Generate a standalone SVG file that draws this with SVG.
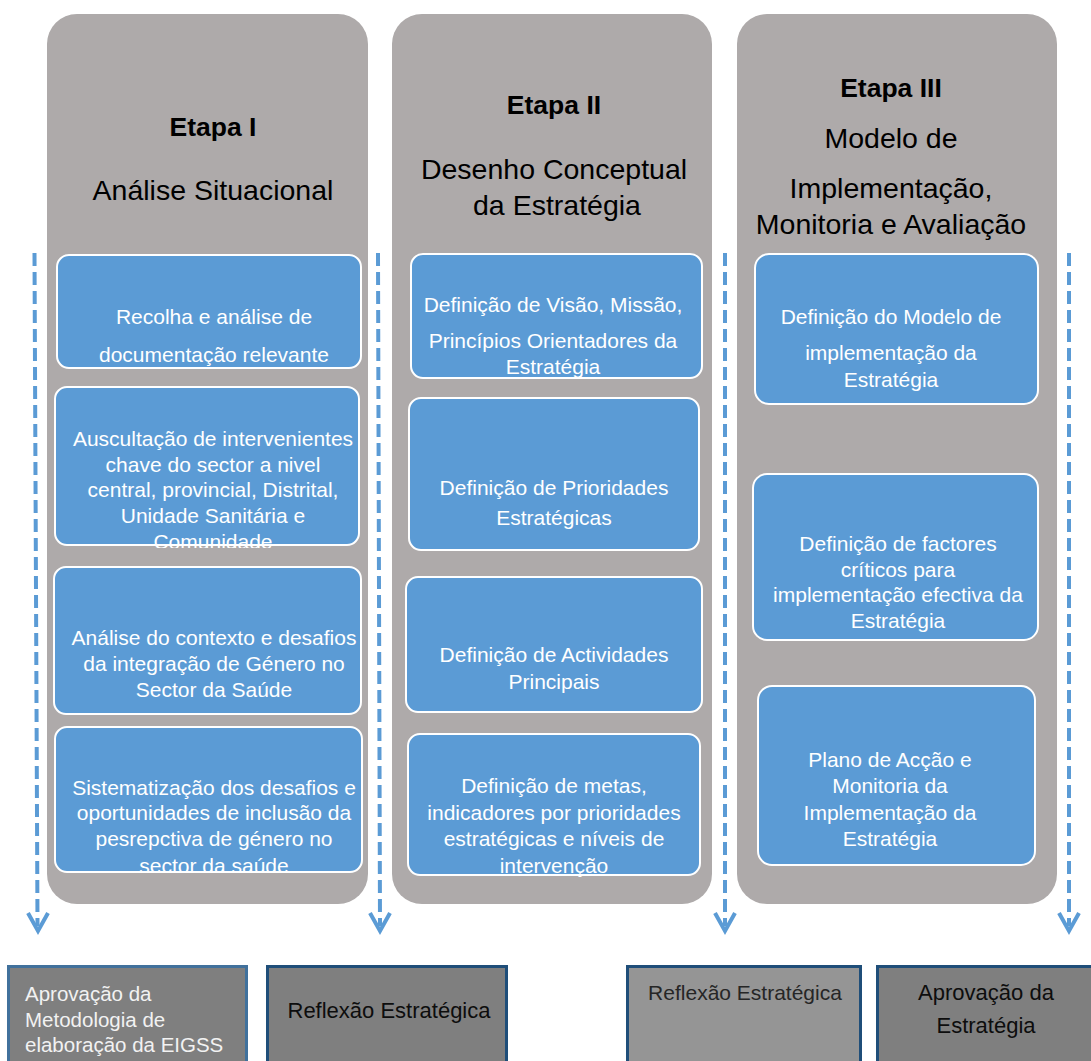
<svg xmlns="http://www.w3.org/2000/svg" width="1091" height="1061" viewBox="0 0 1091 1061">
<style>
.col{fill:#aeaaaa}
.box{fill:#5b9bd5;stroke:#ffffff;stroke-width:2}
.bt{font-family:"Liberation Sans",Arial,sans-serif;font-size:21px;fill:#ffffff;text-anchor:middle}
.h{font-family:"Liberation Sans",Arial,sans-serif;font-size:28.5px;fill:#000000;text-anchor:middle}
.hb{font-family:"Liberation Sans",Arial,sans-serif;font-size:26.5px;font-weight:bold;fill:#000000;text-anchor:middle}
.arr{fill:none;stroke:#5b9bd5;stroke-width:4;stroke-dasharray:13 6}
.head{fill:none;stroke:#5b9bd5;stroke-width:4}
.bot{stroke-width:3}
.ft{font-family:"Liberation Sans",Arial,sans-serif;font-size:20.5px}
</style>
<defs>
<clipPath id="c11"><rect x="50" y="250" width="320" height="121"/></clipPath>
<clipPath id="c12"><rect x="50" y="380" width="320" height="168"/></clipPath>
<clipPath id="c13"><rect x="50" y="560" width="320" height="157"/></clipPath>
<clipPath id="c14"><rect x="50" y="720" width="320" height="155"/></clipPath>
<clipPath id="c21"><rect x="400" y="250" width="310" height="131"/></clipPath>
<clipPath id="c22"><rect x="400" y="390" width="310" height="163"/></clipPath>
<clipPath id="c23"><rect x="400" y="570" width="310" height="145"/></clipPath>
<clipPath id="c24"><rect x="400" y="728" width="310" height="150"/></clipPath>
<clipPath id="c31"><rect x="745" y="250" width="300" height="157"/></clipPath>
<clipPath id="c32"><rect x="745" y="468" width="300" height="175"/></clipPath>
<clipPath id="c33"><rect x="745" y="680" width="300" height="188"/></clipPath>
</defs>

<g id="col1">
<rect class="col" x="47" y="14" width="321" height="890" rx="30"/>
<text class="hb" x="213" y="136">Etapa I</text>
<text class="h" x="213" y="200">Análise Situacional</text>
</g>
<g id="col2">
<rect class="col" x="392" y="14" width="320" height="890" rx="30"/>
<text class="hb" x="554" y="114">Etapa II</text>
<text class="h" x="554" y="179">Desenho Conceptual</text>
<text class="h" x="557" y="215">da Estratégia</text>
</g>
<g id="col3">
<rect class="col" x="737" y="14" width="320" height="890" rx="30"/>
<text class="hb" x="891" y="97">Etapa III</text>
<text class="h" x="891" y="148">Modelo de</text>
<text class="h" x="891" y="198">Implementação,</text>
<text class="h" x="891" y="234">Monitoria e Avaliação</text>
</g>

<g id="n11">
<rect class="box" x="57" y="255" width="304" height="113" rx="12"/>
<g clip-path="url(#c11)">
<text class="bt" x="214" y="324">Recolha e análise de</text>
<text class="bt" x="214" y="362">documentação relevante</text>
</g>
</g>
<g id="n12">
<rect class="box" x="55" y="387" width="304" height="158" rx="12"/>
<g clip-path="url(#c12)">
<text class="bt" x="213" y="446">Auscultação de intervenientes</text>
<text class="bt" x="213" y="472">chave do sector a nivel</text>
<text class="bt" x="213" y="497">central, provincial, Distrital,</text>
<text class="bt" x="213" y="523">Unidade Sanitária e</text>
<text class="bt" x="213" y="549">Comunidade</text>
</g>
</g>
<g id="n13">
<rect class="box" x="54" y="567" width="307" height="147" rx="12"/>
<g clip-path="url(#c13)">
<text class="bt" x="214" y="645">Análise do contexto e desafios</text>
<text class="bt" x="214" y="671">da integração de Género no</text>
<text class="bt" x="214" y="697">Sector da Saúde</text>
</g>
</g>
<g id="n14">
<rect class="box" x="55" y="727" width="307" height="145" rx="12"/>
<g clip-path="url(#c14)">
<text class="bt" x="214" y="795">Sistematização dos desafios e</text>
<text class="bt" x="214" y="820">oportunidades de inclusão da</text>
<text class="bt" x="214" y="846">pesrepctiva de género no</text>
<text class="bt" x="214" y="873">sector da saúde</text>
</g>
</g>

<g id="n21">
<rect class="box" x="411" y="254" width="291" height="124" rx="12"/>
<g clip-path="url(#c21)">
<text class="bt" x="553" y="312">Definição de Visão, Missão,</text>
<text class="bt" x="553" y="348">Princípios Orientadores da</text>
<text class="bt" x="553" y="374">Estratégia</text>
</g>
</g>
<g id="n22">
<rect class="box" x="409" y="398" width="290" height="152" rx="12"/>
<g clip-path="url(#c22)">
<text class="bt" x="554" y="495">Definição de Prioridades</text>
<text class="bt" x="554" y="525">Estratégicas</text>
</g>
</g>
<g id="n23">
<rect class="box" x="406" y="577" width="296" height="135" rx="12"/>
<g clip-path="url(#c23)">
<text class="bt" x="554" y="662">Definição de Actividades</text>
<text class="bt" x="554" y="689">Principais</text>
</g>
</g>
<g id="n24">
<rect class="box" x="408" y="734" width="292" height="141" rx="12"/>
<g clip-path="url(#c24)">
<text class="bt" x="554" y="793">Definição de metas,</text>
<text class="bt" x="554" y="820">indicadores por prioridades</text>
<text class="bt" x="554" y="846">estratégicas e níveis de</text>
<text class="bt" x="554" y="873">intervenção</text>
</g>
</g>

<g id="n31">
<rect class="box" x="755" y="254" width="283" height="150" rx="14"/>
<g clip-path="url(#c31)">
<text class="bt" x="891" y="324">Definição do Modelo de</text>
<text class="bt" x="891" y="360">implementação da</text>
<text class="bt" x="891" y="387">Estratégia</text>
</g>
</g>
<g id="n32">
<rect class="box" x="753" y="474" width="285" height="166" rx="14"/>
<g clip-path="url(#c32)">
<text class="bt" x="898" y="551">Definição de factores</text>
<text class="bt" x="898" y="577">críticos para</text>
<text class="bt" x="898" y="602">implementação efectiva da</text>
<text class="bt" x="898" y="628">Estratégia</text>
</g>
</g>
<g id="n33">
<rect class="box" x="758" y="686" width="277" height="179" rx="14"/>
<g clip-path="url(#c33)">
<text class="bt" x="890" y="767">Plano de Acção e</text>
<text class="bt" x="890" y="793">Monitoria da</text>
<text class="bt" x="890" y="820">Implementação da</text>
<text class="bt" x="890" y="846">Estratégia</text>
</g>
</g>

<g id="connectors">
<path class="arr" d="M34.5 253 L37.5 926"/>
<path class="head" d="M28 913 L38 931 L48 913"/>
<path class="arr" d="M378 253 L380 926"/>
<path class="head" d="M370 913 L380 931 L390 913"/>
<path class="arr" d="M725 253 L725 926"/>
<path class="head" d="M715 913 L725 931 L735 913"/>
<path class="arr" d="M1069 253 L1069 926"/>
<path class="head" d="M1059 913 L1069 931 L1079 913"/>
</g>

<g id="b1">
<rect class="bot" x="8.5" y="966.5" width="238" height="100" fill="#7f7f7f" stroke="#41719c"/>
<text class="ft" x="25" y="1001" fill="#f2f2f2">Aprovação da</text>
<text class="ft" x="25" y="1027" fill="#f2f2f2">Metodologia de</text>
<text class="ft" x="25" y="1052" fill="#f2f2f2">elaboração da EIGSS</text>
</g>
<g id="b2">
<rect class="bot" x="267.5" y="966.5" width="239" height="100" fill="#7f7f7f" stroke="#1f4e79"/>
<text class="ft" x="389" y="1018" fill="#0d0d0d" text-anchor="middle" style="font-size:22px">Reflexão Estratégica</text>
</g>
<g id="b3">
<rect class="bot" x="627.5" y="966.5" width="233" height="100" fill="#959595" stroke="#1f4e79"/>
<text class="ft" x="745" y="1000" fill="#262626" text-anchor="middle" style="font-size:21px">Reflexão Estratégica</text>
</g>
<g id="b4">
<rect class="bot" x="877.5" y="966.5" width="220" height="100" fill="#7f7f7f" stroke="#1f4e79"/>
<text class="ft" x="986" y="1000" fill="#0d0d0d" text-anchor="middle" style="font-size:22px">Aprovação da</text>
<text class="ft" x="986" y="1033" fill="#0d0d0d" text-anchor="middle" style="font-size:22px">Estratégia</text>
</g>
</svg>
